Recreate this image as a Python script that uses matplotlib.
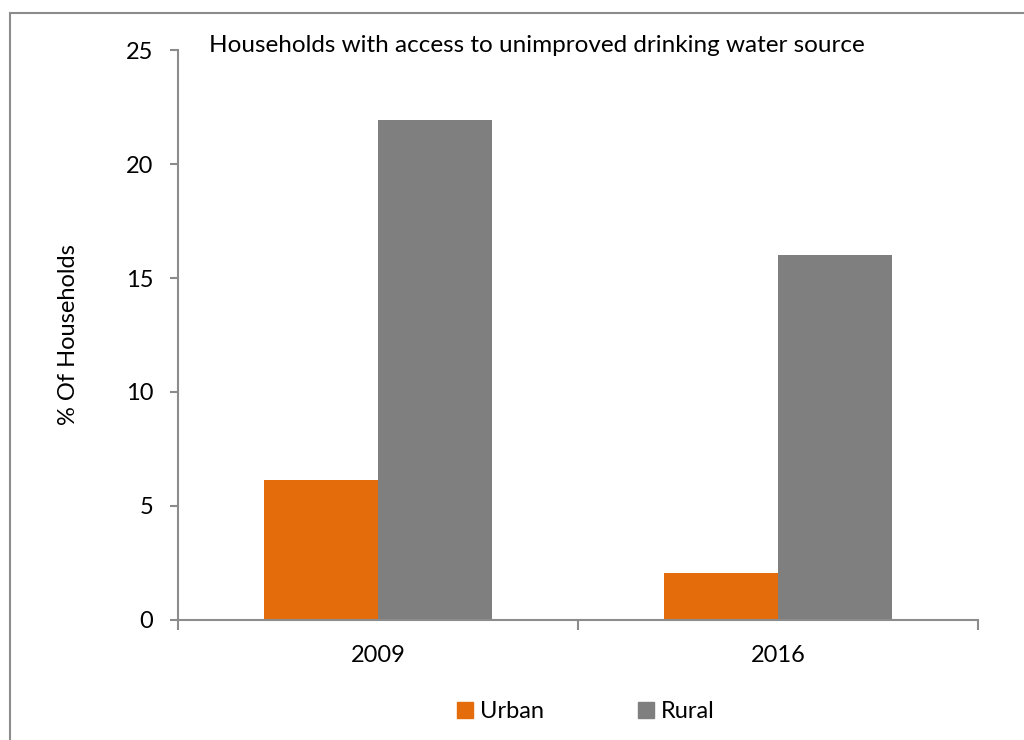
import numpy as np
import matplotlib.pyplot as plt
from matplotlib.patches import Rectangle, Patch

# data
years = ["2009", "2016"]
urban = [6.15, 2.05]
rural = [21.95, 16.0]

plt.rcParams['font.family'] = ['Lato', 'DejaVu Sans']
fs = 17

fig = plt.figure(figsize=(10.24, 7.4), dpi=100)
ax = fig.add_axes([0.1743, 0.1628, 0.9548 - 0.1743, 0.9318 - 0.1628])

# outer chart border (Excel style)
fig.patches.append(Rectangle((10 / 1024, -0.1), 1.2, 1 - 13 / 740 + 0.1,
                             transform=fig.transFigure, fill=False,
                             edgecolor='#8c8c8c', linewidth=1.5))

x = np.arange(len(years))
w = 0.285
ax.bar(x - w / 2, urban, width=w, color='#E46C0A', label='Urban')
ax.bar(x + w / 2, rural, width=w, color='#7F7F7F', label='Rural')

ax.set_xlim(-0.5, 1.5)
ax.set_ylim(0, 25)
ax.set_yticks([0, 5, 10, 15, 20, 25])

spine_c = '#8c8c8c'
for s in ['top', 'right']:
    ax.spines[s].set_visible(False)
for s in ['left', 'bottom']:
    ax.spines[s].set_color(spine_c)
    ax.spines[s].set_linewidth(1.5)

ax.tick_params(axis='y', direction='out', length=6, width=1.5, color=spine_c,
               labelsize=fs, pad=12)
# category labels, ticks on the category boundaries
ax.set_xticks([-0.5, 0.5, 1.5])
ax.set_xticklabels([])
ax.set_xticks(x, minor=True)
ax.set_xticklabels(years, minor=True)
ax.tick_params(axis='x', which='major', direction='out', length=7, width=1.5,
               color=spine_c)
ax.tick_params(axis='x', which='minor', length=0, labelsize=fs, pad=18)

ax.set_ylabel('% Of Households', fontsize=fs)
ax.yaxis.set_label_coords(-0.124, 0.5)

fig.text(537 / 1024, 1 - 46 / 740,
         'Households with access to unimproved drinking water source',
         ha='center', va='center', fontsize=17.5)

handles = [Patch(color='#E46C0A', label='Urban'),
           Patch(color='#7F7F7F', label='Rural')]
fig.legend(handles=handles, loc='center', bbox_to_anchor=(586 / 1024, 1 - 712 / 740),
           ncol=2, frameon=False, fontsize=fs, handlelength=0.65,
           handleheight=0.65, handletextpad=0.3, columnspacing=4.0)

fig.savefig('out.png', dpi=100)
